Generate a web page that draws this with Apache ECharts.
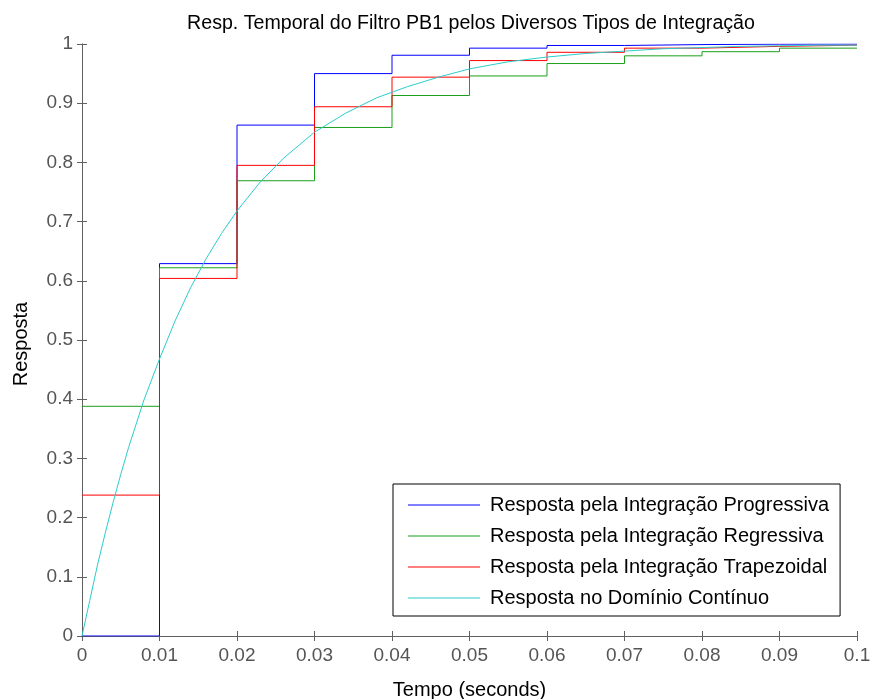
<!DOCTYPE html>
<html>
<head>
<meta charset="utf-8">
<script src="https://cdn.jsdelivr.net/npm/echarts@6/dist/echarts.min.js"></script>
<style>html,body{margin:0;padding:0;background:#fff}#c{width:871px;height:699px}</style>
</head>
<body>
<div id="c"></div>
<script>
const title = 'Resp. Temporal do Filtro PB1 pelos Diversos Tipos de Integração';
const xLabel = 'Tempo (seconds)';
const yLabel = 'Resposta';
const seriesNames = [
  'Resposta pela Integração Progressiva',
  'Resposta pela Integração Regressiva',
  'Resposta pela Integração Trapezoidal',
  'Resposta no Domínio Contínuo'
];
const stepTimes = [0, 0.01, 0.02, 0.03, 0.04, 0.05, 0.06, 0.07, 0.08, 0.09, 0.1];
const progressiva = [0, 0.629, 0.863, 0.950, 0.981, 0.993, 0.9975, 0.999, 0.9997, 0.9999, 0.9999];
const regressiva = [0.388, 0.622, 0.769, 0.859, 0.913, 0.946, 0.967, 0.980, 0.987, 0.993, 0.993];
const trapezoidal = [0.238, 0.604, 0.795, 0.894, 0.944, 0.972, 0.986, 0.993, 0.996, 0.998, 0.998];
const contTimes = [0, 0.001, 0.002, 0.003, 0.004, 0.005, 0.006, 0.008, 0.010, 0.012, 0.014, 0.016, 0.018, 0.020, 0.023, 0.026, 0.030, 0.034, 0.038, 0.042, 0.046, 0.050, 0.055, 0.060, 0.065, 0.070, 0.075, 0.080, 0.085, 0.090, 0.095, 0.100];
const continuo = [0, 0.06, 0.12, 0.174, 0.225, 0.273, 0.318, 0.399, 0.468, 0.532, 0.588, 0.637, 0.68, 0.718, 0.767, 0.807, 0.851, 0.883, 0.909, 0.928, 0.944, 0.958, 0.97, 0.978, 0.984, 0.988, 0.992, 0.994, 0.996, 0.997, 0.998, 0.998];
const colors = ['#0000ff', '#1aa01a', '#ff0000', '#2ccccc'];

const zip = (xs, ys) => xs.map((x, i) => [x, ys[i]]);
const font = 'Liberation Sans, Arial, sans-serif';
const chart = echarts.init(document.getElementById('c'));
const axisCommon = {
  type: 'value',
  axisLine: { show: true, lineStyle: { color: '#606060', width: 1 } },
  axisTick: { show: true, inside: true, length: 5, lineStyle: { color: '#606060' } },
  splitLine: { show: false }
};
const stepSeries = (name, ys, color) => ({
  name, type: 'line', step: 'end', data: zip(stepTimes, ys),
  symbol: 'none', lineStyle: { color, width: 1 }, itemStyle: { color }
});
chart.setOption({
  animation: false,
  backgroundColor: '#fff',
  title: {
    text: title, left: 466, top: 9, textAlign: 'center',
    textStyle: { fontFamily: font, fontSize: 19.6, fontWeight: 'normal', color: '#000' }
  },
  grid: { left: 82, right: 14, top: 44, bottom: 63, containLabel: false, outerBoundsMode: 'none', show: false },
  xAxis: [
    Object.assign({}, axisCommon, {
      position: 'bottom', min: 0, max: 0.1, interval: 0.01,
      name: xLabel, nameLocation: 'middle', nameGap: 44,
      nameTextStyle: { fontFamily: font, fontSize: 20, color: '#000' },
      axisLabel: { fontFamily: font, fontSize: 19, color: '#555', margin: 10,
        formatter: v => String(+v.toFixed(2)) }
    }),
    Object.assign({}, axisCommon, {
      position: 'top', min: 0, max: 0.1, interval: 0.01,
      axisLabel: { show: false }
    })
  ],
  yAxis: [
    Object.assign({}, axisCommon, {
      position: 'left', min: 0, max: 1, interval: 0.1,
      name: yLabel, nameLocation: 'middle', nameGap: 51, nameRotate: 90,
      nameTextStyle: { fontFamily: font, fontSize: 20, color: '#000', padding: [0, 8, 0, 0] },
      axisLabel: { fontFamily: font, fontSize: 19, color: '#555', margin: 9,
        formatter: v => String(+v.toFixed(1)) }
    }),
    Object.assign({}, axisCommon, {
      position: 'right', min: 0, max: 1, interval: 0.1,
      axisLabel: { show: false }
    })
  ],
  legend: {
    orient: 'vertical', left: 393, top: 484,
    padding: [11, 11, 8, 15],
    borderColor: '#000', borderWidth: 1, backgroundColor: '#fff',
    icon: 'rect',
    itemWidth: 72, itemHeight: 1, itemGap: 11,
    textStyle: { fontFamily: font, fontSize: 20, lineHeight: 20, color: '#000', padding: [0, 0, 0, 5] },
    data: seriesNames
  },
  series: [
    stepSeries(seriesNames[0], progressiva, colors[0]),
    stepSeries(seriesNames[1], regressiva, colors[1]),
    stepSeries(seriesNames[2], trapezoidal, colors[2]),
    {
      name: seriesNames[3], type: 'line', data: zip(contTimes, continuo),
      symbol: 'none', lineStyle: { color: colors[3], width: 1 }, itemStyle: { color: colors[3] }
    }
  ]
});
</script>
</body>
</html>
